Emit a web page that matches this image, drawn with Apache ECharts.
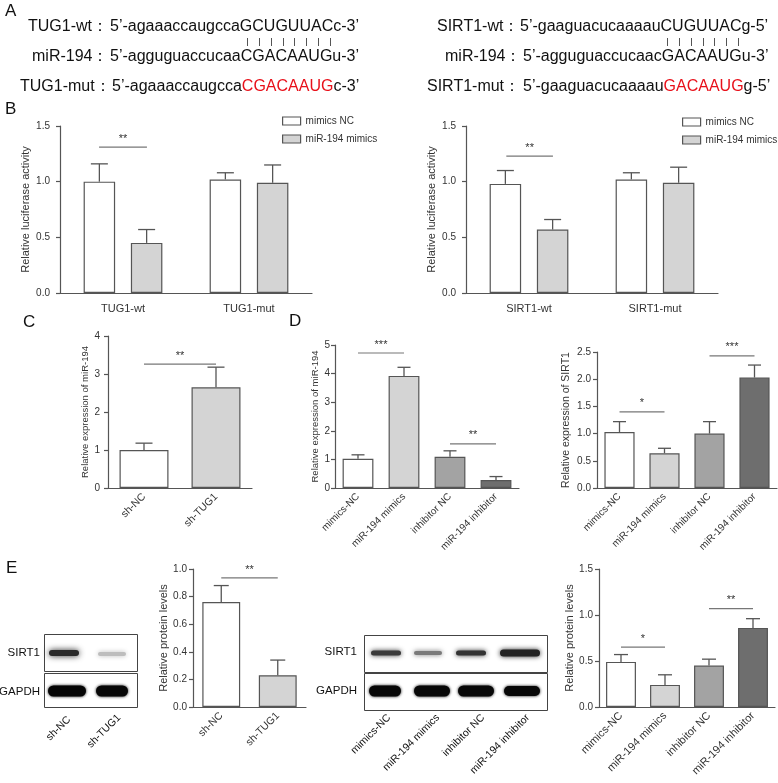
<!DOCTYPE html>
<html>
<head>
<meta charset="utf-8">
<title>miR-194 / TUG1 / SIRT1</title>
<script src="https://cdn.jsdelivr.net/npm/echarts@6/dist/echarts.min.js"></script>
<style>
body { margin: 0; background: #fff; }
#main { width: 778px; height: 783px; }
</style>
</head>
<body>
<div id="main"></div>
<script>
// B: luciferase reporter
var lucTugCats = ['TUG1-wt', 'TUG1-mut'];
var lucTugNC = [1.00, 1.02];
var lucTugNCsd = [0.16, 0.06];
var lucTugMim = [0.45, 0.99];
var lucTugMimSd = [0.12, 0.16];

var lucSirtCats = ['SIRT1-wt', 'SIRT1-mut'];
var lucSirtNC = [0.98, 1.02];
var lucSirtNCsd = [0.12, 0.06];
var lucSirtMim = [0.57, 0.99];
var lucSirtMimSd = [0.09, 0.14];

// C: miR-194 after TUG1 knockdown
var shCats = ['sh-NC', 'sh-TUG1'];
var shMiR = [1.00, 2.65];
var shMiRsd = [0.18, 0.53];

// D: mimics / inhibitor groups
var grpCats = ['mimics-NC', 'miR-194 mimics', 'inhibitor NC', 'miR-194 inhibitor'];
var grpMiR = [1.02, 3.92, 1.09, 0.28];
var grpMiRsd = [0.14, 0.30, 0.21, 0.12];
var grpSirt = [1.03, 0.64, 1.00, 2.03];
var grpSirtSd = [0.19, 0.09, 0.22, 0.23];

// E: western blot quantification
var shProt = [0.76, 0.23];
var shProtSd = [0.12, 0.11];
var grpProt = [0.49, 0.24, 0.45, 0.86];
var grpProtSd = [0.08, 0.11, 0.07, 0.10];

// significance brackets (x in category units, y in data units)
var sigLucTug = [{x1: -0.19, x2: 0.19, y: 1.31, t: '**'}];
var sigLucSirt = [{x1: -0.18, x2: 0.19, y: 1.23, t: '**'}];
var sigSh = [{x1: 0, x2: 1, y: 3.26, t: '**'}];
var sigGrpMiR = [{x1: 0, x2: 1, y: 4.72, t: '***'}, {x1: 2, x2: 3, y: 1.54, t: '**'}];
var sigGrpSirt = [{x1: 0, x2: 1, y: 1.40, t: '*'}, {x1: 2, x2: 3, y: 2.43, t: '***'}];
var sigShProt = [{x1: 0, x2: 1, y: 0.935, t: '**'}];
var sigGrpProt = [{x1: 0, x2: 1, y: 0.65, t: '*'}, {x1: 2, x2: 3, y: 1.07, t: '**'}];

var FONT = 'Liberation Sans, Arial, sans-serif';
var AX = '#555';
var TXT = '#333';
var grpColors = ['#ffffff', '#d4d4d4', '#a3a3a3', '#6e6e6e'];

function xAx(i, cats, rot, size) {
    return {
        type: 'category', gridIndex: i, data: cats,
        axisLine: {lineStyle: {color: AX, width: 1.2}},
        axisTick: {alignWithLabel: true, length: 4, lineStyle: {color: AX, width: 1.2}},
        axisLabel: {color: TXT, fontSize: size, fontFamily: FONT, rotate: rot, interval: 0, margin: rot ? 7 : 10}
    };
}

function yAx(i, max, step, dec, name, nameSize, gap, margin) {
    return {
        type: 'value', gridIndex: i, min: 0, max: max, interval: step,
        name: name, nameLocation: 'middle', nameGap: gap,
        nameTextStyle: {color: TXT, fontSize: nameSize, fontFamily: FONT},
        axisLine: {show: true, lineStyle: {color: AX, width: 1.2}},
        axisTick: {show: true, length: 4, lineStyle: {color: AX, width: 1.2}},
        splitLine: {show: false},
        axisLabel: {color: TXT, fontSize: 10, fontFamily: FONT, margin: margin,
            formatter: function (v) { return v.toFixed(dec); }}
    };
}

function barStyle(c) {
    return {color: c, borderColor: AX, borderWidth: 1.2};
}

function pairBars(i, nc, mim) {
    return [
        {type: 'bar', name: 'mimics NC', xAxisIndex: i, yAxisIndex: i, data: nc,
            barWidth: '25%', barGap: '50%', itemStyle: barStyle('#fff')},
        {type: 'bar', name: 'miR-194 mimics', xAxisIndex: i, yAxisIndex: i, data: mim,
            barWidth: '25%', barGap: '50%', itemStyle: barStyle('#d4d4d4')}
    ];
}

function colorBars(i, vals, w) {
    return {type: 'bar', xAxisIndex: i, yAxisIndex: i, barWidth: w,
        data: vals.map(function (v, k) {
            return {value: v, itemStyle: barStyle(vals.length == 2 ? ['#fff', '#d4d4d4'][k] : grpColors[k])};
        })};
}

// upper error bar with cap
function errSeries(i, means, sds, off, cap) {
    return {
        type: 'custom', xAxisIndex: i, yAxisIndex: i, silent: true, z: 3,
        data: means.map(function (m, k) { return [k, m, m + sds[k]]; }),
        renderItem: function (params, api) {
            var bw = api.size([1, 0])[0];
            var lo = api.coord([api.value(0), api.value(1)]);
            var hi = api.coord([api.value(0), api.value(2)]);
            var x = lo[0] + off * bw;
            var st = {stroke: AX, lineWidth: 1.3};
            return {type: 'group', children: [
                {type: 'line', shape: {x1: x, y1: lo[1], x2: x, y2: hi[1]}, style: st},
                {type: 'line', shape: {x1: x - cap / 2, y1: hi[1], x2: x + cap / 2, y2: hi[1]}, style: st}
            ]};
        }
    };
}

function sigSeries(i, list) {
    return {
        type: 'custom', xAxisIndex: i, yAxisIndex: i, silent: true, z: 4,
        data: list.map(function (s) { return [0, s.y]; }),
        renderItem: function (params, api) {
            var s = list[params.dataIndex];
            var bw = api.size([1, 0])[0];
            var p = api.coord([0, s.y]);
            var xa = p[0] + s.x1 * bw, xb = p[0] + s.x2 * bw;
            return {type: 'group', children: [
                {type: 'line', shape: {x1: xa, y1: p[1], x2: xb, y2: p[1]}, style: {stroke: '#777', lineWidth: 1.2}},
                {type: 'text', x: (xa + xb) / 2, y: p[1] - 3, style: {text: s.t, fill: TXT, fontSize: 11, fontFamily: FONT, align: 'center', verticalAlign: 'bottom'}}
            ]};
        }
    };
}

// ----- panel A text, letters and blots -----
var g = [];
function txt(x, y, s, size, extra) {
    var o = {type: 'text', x: x, y: y, style: {text: s, fill: '#111', fontSize: size, fontFamily: FONT, verticalAlign: 'middle'}};
    if (extra) { for (var k in extra) o.style[k] = extra[k]; }
    return o;
}
var red = {rich: {r: {fill: '#e8101a', fontSize: 16, fontFamily: FONT}}};
g.push(txt(5, 11, 'A', 17), txt(5, 109, 'B', 17), txt(23, 322, 'C', 17), txt(289, 321, 'D', 17), txt(6, 568, 'E', 17));

g.push(txt(28, 27, 'TUG1-wt：', 16), txt(110, 27, '5’-agaaaccaugccaGCUGUUACc-3’', 16));
g.push(txt(32, 57, 'miR-194：', 16), txt(110, 57, '5’-agguguaccucaaCGACAAUGu-3’', 16));
g.push(txt(20, 87, 'TUG1-mut：', 16), txt(112, 87, '5’-agaaaccaugcca{r|CGACAAUG}c-3’', 16, red));
g.push(txt(437, 27, 'SIRT1-wt：', 16), txt(520, 27, '5’-gaaguacucaaaauCUGUUACg-5’', 16));
g.push(txt(445, 57, 'miR-194：', 16), txt(523, 57, '5’-agguguaccucaacGACAAUGu-3’', 16));
g.push(txt(427, 87, 'SIRT1-mut：', 16), txt(523, 87, '5’-gaaguacucaaaau{r|GACAAUG}g-5’', 16, red));

// base-pairing ticks
function pairTicks(x0, x1, n) {
    for (var k = 0; k < n; k++) {
        var x = Math.round(x0 + (x1 - x0) * k / (n - 1)) + 0.5;
        g.push({type: 'line', shape: {x1: x, y1: 38, x2: x, y2: 46}, style: {stroke: '#555', lineWidth: 1}});
    }
}
pairTicks(247, 330, 8);
pairTicks(667, 738, 7);

// western blots
function frame(x, y, w, h) {
    return {type: 'rect', shape: {x: x, y: y, width: w, height: h}, style: {fill: '#fff', stroke: '#444', lineWidth: 1}};
}
function band(cx, cy, rx, ry, col, blur) {
    return {type: 'rect', shape: {x: cx - rx, y: cy - ry, width: 2 * rx, height: 2 * ry, r: ry},
        style: {fill: col, shadowBlur: blur, shadowColor: col}};
}
function laneLabel(x, y, s) {
    return {type: 'text', x: x, y: y, rotation: Math.PI / 4,
        style: {text: s, fill: '#111', fontSize: 10.5, fontFamily: FONT, align: 'right', verticalAlign: 'middle'}};
}
g.push(frame(44.5, 634.5, 93, 37), frame(44.5, 673.5, 93, 34));
g.push(band(64, 653, 15, 3, '#2a2a2a', 6), band(112, 654, 14, 2, '#bdbdbd', 5));
g.push(band(67, 691, 19, 5.5, '#050505', 3), band(112, 691, 16, 5.5, '#070707', 3));
g.push(txt(40, 653, 'SIRT1', 11.5, {align: 'right'}), txt(40, 692, 'GAPDH', 11.5, {align: 'right'}));
g.push(laneLabel(69, 718, 'sh-NC'), laneLabel(119, 716, 'sh-TUG1'));

g.push(frame(364.5, 635.5, 183, 37), frame(364.5, 673.5, 183, 37));
g.push(band(386, 653, 15, 2.5, '#3a3a3a', 5), band(428, 653, 14, 2, '#7a7a7a', 5),
    band(471, 653, 15, 2.5, '#333', 5), band(520, 653, 20, 3.5, '#222', 5));
g.push(band(385, 691, 16, 5.5, '#080808', 3), band(432, 691, 18, 5.5, '#080808', 3),
    band(476, 691, 18, 5.5, '#080808', 3), band(522, 691, 18, 5, '#080808', 3));
g.push(txt(357, 652, 'SIRT1', 11.5, {align: 'right'}), txt(357, 691, 'GAPDH', 11.5, {align: 'right'}));
g.push(laneLabel(389, 716, 'mimics-NC'), laneLabel(438, 716, 'miR-194 mimics'),
    laneLabel(483, 716, 'inhibitor NC'), laneLabel(528, 716, 'miR-194 inhibitor'));

var legendBase = {
    orient: 'vertical', icon: 'rect', itemWidth: 18, itemHeight: 8, itemGap: 8,
    data: ['mimics NC', 'miR-194 mimics'],
    itemStyle: {borderColor: AX, borderWidth: 1.2},
    textStyle: {color: TXT, fontSize: 10, fontFamily: FONT}
};

var chart = echarts.init(document.getElementById('main'));
chart.setOption({
    backgroundColor: '#fff',
    animation: false,
    textStyle: {fontFamily: FONT},
    grid: [
        {left: 60, top: 126, width: 252, height: 167, outerBoundsMode: 'none'},
        {left: 466, top: 126, width: 252, height: 167, outerBoundsMode: 'none'},
        {left: 108, top: 336, width: 144, height: 152, outerBoundsMode: 'none'},
        {left: 335, top: 345, width: 184, height: 143, outerBoundsMode: 'none'},
        {left: 597, top: 352, width: 180, height: 136, outerBoundsMode: 'none'},
        {left: 193, top: 569, width: 113, height: 138, outerBoundsMode: 'none'},
        {left: 599, top: 569, width: 176, height: 138, outerBoundsMode: 'none'}
    ],
    legend: [
        Object.assign({left: 277, top: 111}, legendBase),
        Object.assign({left: 677, top: 112}, legendBase)
    ],
    xAxis: [
        xAx(0, lucTugCats, 0, 11),
        xAx(1, lucSirtCats, 0, 11),
        xAx(2, shCats, 45, 10.5),
        xAx(3, grpCats, 45, 10),
        xAx(4, grpCats, 45, 10),
        xAx(5, shCats, 45, 10.5),
        xAx(6, grpCats, 45, 11)
    ],
    yAxis: [
        yAx(0, 1.5, 0.5, 1, 'Relative luciferase activity', 11, 29, 10),
        yAx(1, 1.5, 0.5, 1, 'Relative luciferase activity', 11, 29, 10),
        yAx(2, 4, 1, 0, 'Relative expression of miR-194', 9.5, 18, 8),
        yAx(3, 5, 1, 0, 'Relative expression of miR-194', 9.5, 14, 5),
        yAx(4, 2.5, 0.5, 1, 'Relative expression of SIRT1', 10.5, 25, 6),
        yAx(5, 1.0, 0.2, 1, 'Relative protein levels', 11, 24, 6),
        yAx(6, 1.5, 0.5, 1, 'Relative protein levels', 11, 24, 6)
    ],
    series: [].concat(
        pairBars(0, lucTugNC, lucTugMim),
        errSeries(0, lucTugNC, lucTugNCsd, -0.1875, 17),
        errSeries(0, lucTugMim, lucTugMimSd, 0.1875, 17),
        sigSeries(0, sigLucTug),
        pairBars(1, lucSirtNC, lucSirtMim),
        errSeries(1, lucSirtNC, lucSirtNCsd, -0.1875, 17),
        errSeries(1, lucSirtMim, lucSirtMimSd, 0.1875, 17),
        sigSeries(1, sigLucSirt),
        colorBars(2, shMiR, '68%'),
        errSeries(2, shMiR, shMiRsd, 0, 17),
        sigSeries(2, sigSh),
        colorBars(3, grpMiR, '67%'),
        errSeries(3, grpMiR, grpMiRsd, 0, 13),
        sigSeries(3, sigGrpMiR),
        colorBars(4, grpSirt, '67%'),
        errSeries(4, grpSirt, grpSirtSd, 0, 13),
        sigSeries(4, sigGrpSirt),
        colorBars(5, shProt, '67%'),
        errSeries(5, shProt, shProtSd, 0, 15),
        sigSeries(5, sigShProt),
        colorBars(6, grpProt, '68%'),
        errSeries(6, grpProt, grpProtSd, 0, 14),
        sigSeries(6, sigGrpProt)
    ),
    graphic: g
});
</script>
</body>
</html>
